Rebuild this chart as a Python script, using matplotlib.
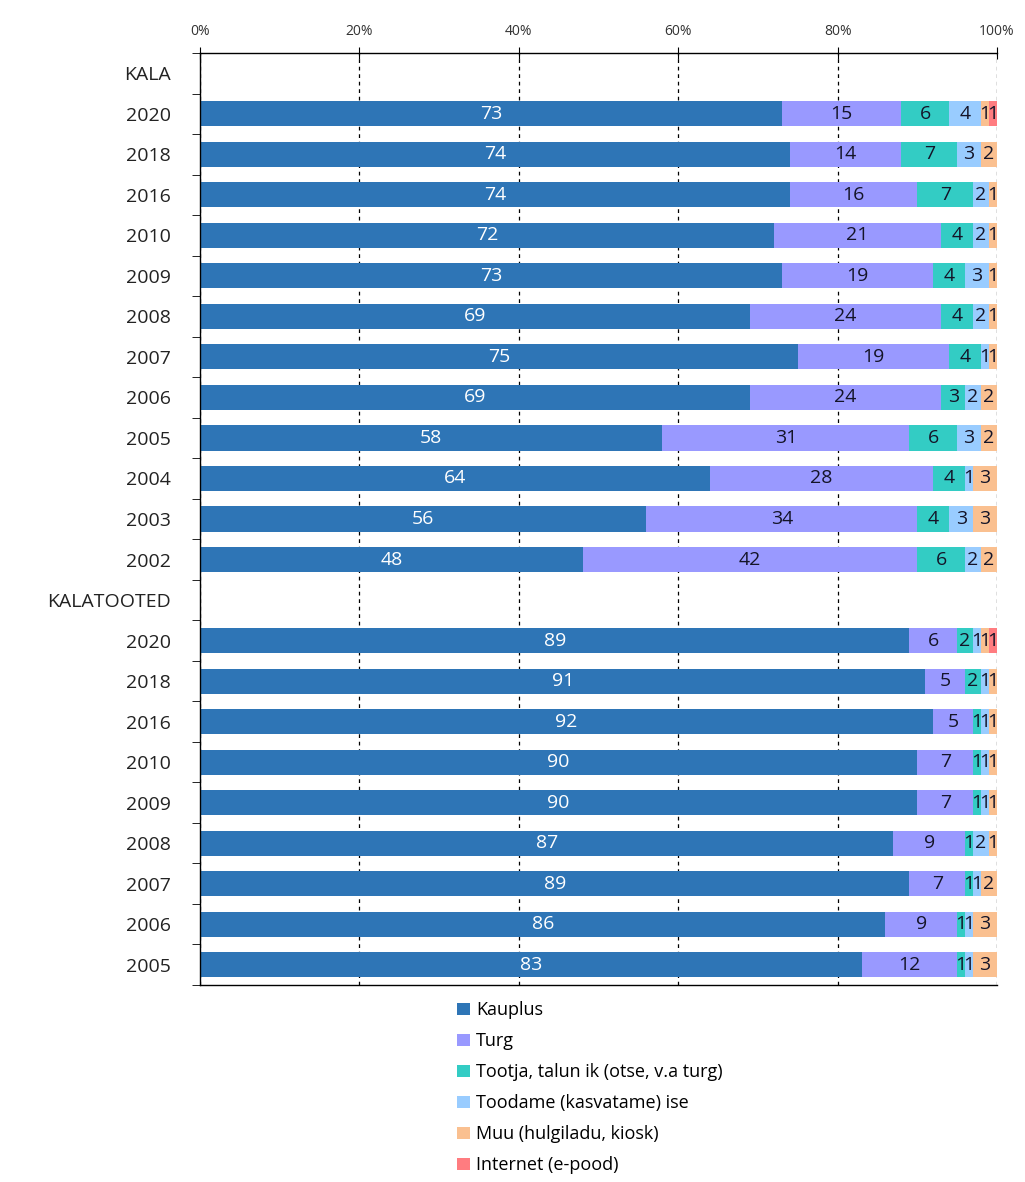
import numpy as np
import matplotlib.pyplot as plt

plt.rcParams['font.family'] = ['Open Sans', 'DejaVu Sans']

# row labels (headers have no bars)
row_labels = ["KALA", "2020", "2018", "2016", "2010", "2009", "2008", "2007", "2006",
              "2005", "2004", "2003", "2002",
              "KALATOOTED", "2020", "2018", "2016", "2010", "2009", "2008", "2007",
              "2006", "2005"]
is_header = [lab in ("KALA", "KALATOOTED") for lab in row_labels]

series_names = ["Kauplus", "Turg", "Tootja, talun ik (otse, v.a turg)",
                "Toodame (kasvatame) ise", "Muu (hulgiladu, kiosk)", "Internet (e-pood)"]
colors = ["#2E75B6", "#9999FF", "#33CCC4", "#99CCFF", "#FAC090", "#FF7C80"]

# values per series, for bar rows only (KALA 2020..2002, KALATOOTED 2020..2005)
kauplus = [73, 74, 74, 72, 73, 69, 75, 69, 58, 64, 56, 48,
           89, 91, 92, 90, 90, 87, 89, 86, 83]
turg = [15, 14, 16, 21, 19, 24, 19, 24, 31, 28, 34, 42,
        6, 5, 5, 7, 7, 9, 7, 9, 12]
tootja = [6, 7, 7, 4, 4, 4, 4, 3, 6, 4, 4, 6,
          2, 2, 1, 1, 1, 1, 1, 1, 1]
toodame = [4, 3, 2, 2, 3, 2, 1, 2, 3, 1, 3, 2,
           1, 1, 1, 1, 1, 2, 1, 1, 1]
muu = [1, 2, 1, 1, 1, 1, 1, 2, 2, 3, 3, 2,
       1, 1, 1, 1, 1, 1, 2, 3, 3]
internet = [1, 0, 0, 0, 0, 0, 0, 0, 0, 0, 0, 0,
            1, 0, 0, 0, 0, 0, 0, 0, 0]
series = [kauplus, turg, tootja, toodame, muu, internet]

fig = plt.figure(figsize=(10.25, 11.82), dpi=100)
ax = fig.add_axes([200 / 1025, 1 - 985 / 1182, 797 / 1025, 932 / 1182])

ypos = [i for i, h in enumerate(is_header) if not h]
left = np.zeros(len(ypos))
for name, vals, col in zip(series_names, series, colors):
    vals = np.array(vals, dtype=float)
    bars = ax.barh(ypos, vals, left=left, height=0.62, color=col, label=name)
    labs = [str(int(v)) if v > 0 else "" for v in vals]
    tc = "white" if name == "Kauplus" else "#141428"
    ax.bar_label(bars, labels=labs, label_type="center", color=tc, fontsize=14)
    left += vals

ax.set_xlim(0, 100)
ax.set_ylim(len(row_labels) - 0.5, -0.5)
ax.set_xticks(range(0, 101, 20))
ax.set_xticklabels([f"{v}%" for v in range(0, 101, 20)], fontsize=10, color="#333333")
ax.xaxis.tick_top()
ax.tick_params(axis="x", direction="inout", length=8, pad=6)
ax.grid(axis="x", linestyle=(0, (3, 3)), color="black", linewidth=0.9)
ax.set_axisbelow(True)

ax.set_yticks(range(len(row_labels)))
ax.set_yticklabels(row_labels, fontsize=14, color="#222222")
ax.set_yticks(np.arange(-0.5, len(row_labels), 1), minor=True)
ax.tick_params(axis="y", which="major", length=0, pad=21)
ax.tick_params(axis="y", which="minor", direction="out", length=6)

ax.spines["right"].set_visible(False)
for s in ("left", "top", "bottom"):
    ax.spines[s].set_color("black")
    ax.spines[s].set_linewidth(1.0)

handles, labels = ax.get_legend_handles_labels()
fig.legend(handles, labels, loc="upper left", bbox_to_anchor=(450 / 1025, 1 - 994 / 1182),
           frameon=False, fontsize=13, handlelength=0.7, handleheight=0.7,
           handletextpad=0.35, labelspacing=0.72, borderaxespad=0)

plt.savefig("out.png", dpi=100)
